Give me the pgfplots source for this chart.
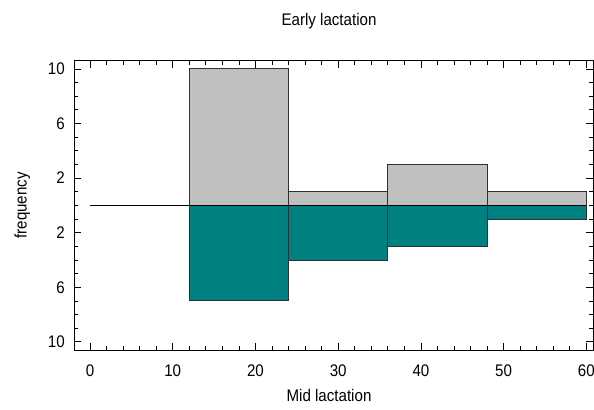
\documentclass[border=0pt]{standalone}
\usepackage{fontspec}
\setmainfont{Liberation Sans}[FakeStretch=0.9]
\usepackage{pgfplots}
\pgfplotsset{compat=1.18}
\definecolor{barteal}{HTML}{008080}
\definecolor{bargray}{HTML}{C0C0C0}
\definecolor{baredge}{HTML}{303030}
\begin{document}%
\fontsize{16.8bp}{20bp}\selectfont%
\begin{tikzpicture}
\useasboundingbox (0,0) rectangle (594bp,410bp);
\begin{axis}[
  at={(74bp,60bp)}, anchor=south west,
  scale only axis, width=519bp, height=289.3bp,
  xmin=-1.93, xmax=60.8, ymin=-10.6, ymax=10.6,
  xtick={0,10,...,60}, minor x tick num=4,
  ytick={-10,-6,-2,2,6,10}, yticklabels={10,6,2,2,6,10},
  minor ytick={-9,-8,...,9},
  tick align=inside,
  major tick length=7bp, minor tick length=4bp,
  tick style={black, line width=0.7bp},
  axis line style={black, line width=0.9bp},
  /pgf/number format/assume math mode=true,
  xticklabel style={anchor=base, yshift=-27bp, inner sep=0pt},
  yticklabel style={anchor=east, xshift=-9bp, inner sep=0pt},
  axis on top=false,
]
\addplot[ybar interval, fill=bargray, draw=baredge, line width=0.8bp]
  coordinates {(12,10) (24,1) (36,3) (48,1) (60,1)};
\addplot[ybar interval, fill=barteal, draw=baredge, line width=0.8bp]
  coordinates {(12,-7) (24,-4) (36,-3) (48,-1) (60,-1)};
\addplot[black, line width=0.8bp] coordinates {(0,0) (60,0)};
\end{axis}
\node[anchor=base] at (329bp,384.3bp) {Early lactation};
\node[anchor=base] at (329bp,8.3bp) {Mid lactation};
\node[anchor=base, rotate=90] at (26.7bp,204.6bp) {frequency};
\end{tikzpicture}%
\end{document}
